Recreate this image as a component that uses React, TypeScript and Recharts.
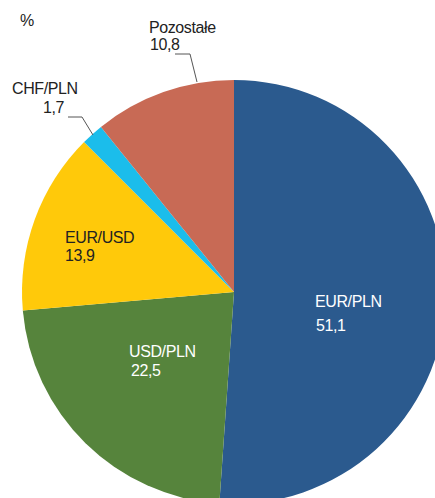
import React from "react";
import { PieChart, Pie, Cell } from "recharts";

const categories = ["EUR/PLN", "USD/PLN", "EUR/USD", "CHF/PLN", "Pozostałe"];
const shares = [51.1, 22.5, 13.9, 1.7, 10.8];
const valueLabels = ["51,1", "22,5", "13,9", "1,7", "10,8"];
const colors = ["#2B5A8E", "#56843C", "#FFC90A", "#1BBDEB", "#C86A55"];
const unitLabel = "%";

const data = categories.map((name, i) => ({ name, value: shares[i], label: valueLabels[i] }));

// label layout relative to the pie centre
const layout: Record<string, any> = {
  "EUR/PLN": { x1: 81, y1: 15, x2: 82, y2: 39, fill: "#ffffff" },
  "USD/PLN": { x1: -105, y1: 65, x2: -103, y2: 84, fill: "#ffffff" },
  "EUR/USD": { x1: -169, y1: -49, x2: -169, y2: -31, fill: "#222222" },
  "CHF/PLN": {
    x1: -222, y1: -198, x2: -191, y2: -179, fill: "#222222",
    line: [[-166, -175], [-152, -175], [-141, -157]],
  },
  "Pozostałe": {
    x1: -85, y1: -259, x2: -84, y2: -242, fill: "#222222",
    line: [[-59, -238], [-44, -238], [-37, -210]],
  },
};

const fontStyle = { fontFamily: "'Liberation Sans', Arial, sans-serif", fontSize: 16, letterSpacing: -0.4 };

const renderLabel = (props: any) => {
  const { cx, cy, name, payload } = props;
  const l = layout[name];
  if (!l) return null;
  const lbl = payload?.label ?? (payload?.payload?.label);
  return (
    <g>
      {l.line && (
        <polyline
          points={l.line.map((p: number[]) => `${cx + p[0]},${cy + p[1]}`).join(" ")}
          fill="none"
          stroke="#555555"
          strokeWidth={1}
        />
      )}
      <text x={cx + l.x1} y={cy + l.y1} fill={l.fill} style={fontStyle}>{name}</text>
      <text x={cx + l.x2} y={cy + l.y2} fill={l.fill} style={fontStyle}>{lbl}</text>
    </g>
  );
};

export default function App() {
  return (
    <div style={{ position: "absolute", left: 0, top: 0, width: 435, height: 498, overflow: "hidden", background: "#fff" }}>
      <PieChart width={435} height={498} margin={{ top: 0, right: 0, bottom: 0, left: 0 }}>
        <text x={20} y={26} fill="#222222" style={fontStyle}>{unitLabel}</text>
        <Pie
          data={data}
          dataKey="value"
          nameKey="name"
          cx={234}
          cy={292}
          innerRadius={0}
          outerRadius={212}
          startAngle={90}
          endAngle={-270}
          stroke="none"
          label={renderLabel}
          labelLine={false}
          isAnimationActive={false}
        >
          {data.map((d, i) => (
            <Cell key={d.name} fill={colors[i]} />
          ))}
        </Pie>
      </PieChart>
    </div>
  );
}
